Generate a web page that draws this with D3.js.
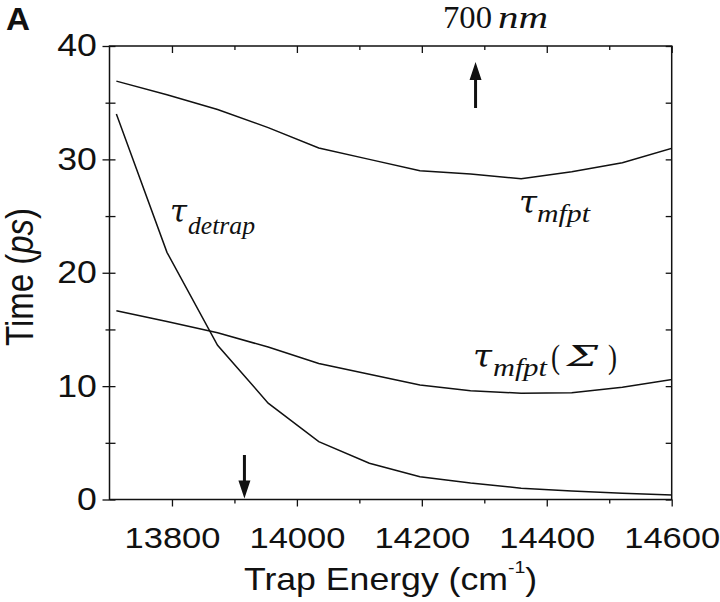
<!DOCTYPE html>
<html>
<head>
<meta charset="utf-8">
<script src="https://cdn.jsdelivr.net/npm/d3@7"></script>
<style>
  body { margin: 0; background: #fff; }
</style>
</head>
<body>
<div id="chart"></div>
<script>
// Trap energy (cm^-1) of each computed point
const energy = [13711, 13792, 13873, 13954, 14035, 14116, 14197, 14278, 14359, 14440, 14521, 14602];
// times in ps
const tauMfpt      = [36.9, 35.7, 34.4, 32.8, 31.0, 30.0, 29.0, 28.7, 28.3, 28.9, 29.7, 31.0];
const tauMfptSigma = [16.65, 15.7, 14.7, 13.45, 12.0, 11.05, 10.1, 9.6, 9.37, 9.42, 9.9, 10.6];
const tauDetrap    = [34.0, 21.8, 13.6, 8.5, 5.1, 3.2, 2.0, 1.45, 1.0, 0.75, 0.55, 0.4];

const xMajor = [13800, 14000, 14200, 14400, 14600];
const xMinor = [13900, 14100, 14300, 14500];
const yMajor = [0, 10, 20, 30, 40];
const yMinor = [5, 15, 25, 35];

// arrow markers on the energy axis
const arrowUpAt = 14286;   // 700 nm
const arrowDownAt = 13916;

const width = 720, height = 602;
const plot = { left: 109.5, right: 671.7, top: 46, bottom: 499.5 };
const ink = "#111";
const sans = "Liberation Sans, Arial, sans-serif";
const serif = "Liberation Serif, Times New Roman, serif";
const greek = "DejaVu Serif, serif";
const SX = 1.15; // the original figure is slightly stretched horizontally

const svg = d3.select("#chart")
    .append("svg")
    .attr("width", width)
    .attr("height", height);

const x = d3.scaleLinear().domain([13700, 14600]).range([plot.left, plot.right]);
const y = d3.scaleLinear().domain([0, 40]).range([plot.bottom, plot.top]);

function styleTicks(g) {
    g.select(".domain").remove();
    g.selectAll("line").attr("stroke", ink).attr("stroke-width", 1.3);
}

// bottom axis: outward ticks + labels
const gx = svg.append("g")
    .attr("transform", `translate(0,${plot.bottom})`)
    .call(d3.axisBottom(x).tickValues(xMajor).tickSize(7).tickPadding(20).tickFormat(d3.format("d")));
styleTicks(gx);
gx.selectAll("text")
    .attr("font-family", sans)
    .attr("font-size", 30)
    .attr("fill", ink)
    .attr("transform", `scale(${SX},1)`);

svg.append("g")
    .attr("transform", `translate(0,${plot.bottom})`)
    .call(d3.axisBottom(x).tickValues(xMinor).tickSize(4).tickFormat(""))
    .call(styleTicks);

// top axis: inward ticks
svg.append("g")
    .attr("transform", `translate(0,${plot.top})`)
    .call(d3.axisTop(x).tickValues(xMajor).tickSize(-7).tickFormat(""))
    .call(styleTicks);
svg.append("g")
    .attr("transform", `translate(0,${plot.top})`)
    .call(d3.axisTop(x).tickValues(xMinor).tickSize(-4).tickFormat(""))
    .call(styleTicks);

// left axis: outward ticks + labels
const gy = svg.append("g")
    .attr("transform", `translate(${plot.left},0)`)
    .call(d3.axisLeft(y).tickValues(yMajor).tickSize(7).tickPadding(4));
styleTicks(gy);
gy.selectAll("text")
    .attr("font-family", sans)
    .attr("font-size", 31)
    .attr("fill", ink)
    .attr("transform", `scale(${SX},1)`);

svg.append("g")
    .attr("transform", `translate(${plot.left},0)`)
    .call(d3.axisLeft(y).tickValues(yMinor).tickSize(4).tickFormat(""))
    .call(styleTicks);

// inward ticks on left and right
svg.append("g")
    .attr("transform", `translate(${plot.left},0)`)
    .call(d3.axisLeft(y).tickValues(yMajor.concat(yMinor)).tickSize(-6).tickFormat(""))
    .call(styleTicks);
svg.append("g")
    .attr("transform", `translate(${plot.right},0)`)
    .call(d3.axisRight(y).tickValues(yMajor.concat(yMinor)).tickSize(-6).tickFormat(""))
    .call(styleTicks);

// frame
svg.append("rect")
    .attr("x", plot.left)
    .attr("y", plot.top)
    .attr("width", plot.right - plot.left)
    .attr("height", plot.bottom - plot.top)
    .attr("fill", "none")
    .attr("stroke", ink)
    .attr("stroke-width", 1.5);

// curves
svg.append("clipPath").attr("id", "plot-clip")
    .append("rect")
    .attr("x", plot.left)
    .attr("y", plot.top)
    .attr("width", plot.right - plot.left)
    .attr("height", plot.bottom - plot.top);

const line = d3.line()
    .x(d => x(d[0]))
    .y(d => y(d[1]));

[tauMfpt, tauMfptSigma, tauDetrap].forEach(series => {
    svg.append("path")
        .datum(energy.map((e, i) => [e, series[i]]))
        .attr("clip-path", "url(#plot-clip)")
        .attr("d", line)
        .attr("fill", "none")
        .attr("stroke", ink)
        .attr("stroke-width", 1.5);
});

// arrows
function arrow(xc, tipY, tailY) {
    const dir = tipY < tailY ? 1 : -1;  // 1 = pointing up
    const headLen = 18, headHalf = 6;
    svg.append("line")
        .attr("x1", xc).attr("x2", xc)
        .attr("y1", tailY).attr("y2", tipY + dir * headLen * 0.8)
        .attr("stroke", ink)
        .attr("stroke-width", 3);
    svg.append("path")
        .attr("d", `M${xc},${tipY} L${xc - headHalf},${tipY + dir * headLen} L${xc + headHalf},${tipY + dir * headLen} Z`)
        .attr("fill", ink);
}
arrow(x(arrowUpAt), 62, 108);
arrow(x(arrowDownAt), plot.bottom - 1, 455);

// serif math labels
function mathText(str, xPos, yPos, size, len, italic, family) {
    const t = svg.append("text")
        .attr("x", xPos)
        .attr("y", yPos)
        .attr("font-family", family || serif)
        .attr("font-size", size)
        .attr("font-style", italic ? "italic" : "normal")
        .attr("font-weight", "normal")
        .attr("fill", ink)
        .text(str);
    if (len) t.attr("textLength", len).attr("lengthAdjust", "spacingAndGlyphs");
    return t;
}

mathText("\u03C4", 170, 222, 31, 17, true, greek);
mathText("detrap", 188, 234, 26, 67, true);

mathText("\u03C4", 519, 213, 31, 18, true, greek);
mathText("mfpt", 537, 222, 26, 53, true);

mathText("\u03C4", 473, 367, 31, 19, true, greek);
mathText("mfpt", 493, 376, 26, 54, true);
mathText("(", 551, 368, 34, 9, false);
mathText("\u03A3", 567, 366, 27, 31, true, greek);
mathText(")", 608, 368, 34, 9, false);

mathText("700", 443, 28, 31, 49, false);
mathText("nm", 498, 28, 31, 50, true);

// panel letter
svg.append("text")
    .attr("x", 6)
    .attr("y", 30)
    .attr("font-family", sans)
    .attr("font-size", 32)
    .attr("font-weight", "bold")
    .attr("fill", ink)
    .attr("textLength", 24)
    .attr("lengthAdjust", "spacingAndGlyphs")
    .text("A");

// axis titles
const xTitle = svg.append("text")
    .attr("transform", `translate(${(plot.left + plot.right) / 2},590) scale(${SX},1)`)
    .attr("text-anchor", "middle")
    .attr("font-family", sans)
    .attr("font-size", 31)
    .attr("fill", ink);
xTitle.append("tspan").text("Trap Energy (cm");
xTitle.append("tspan").attr("font-size", 17).attr("dy", -17).text("-1");
xTitle.append("tspan").attr("dy", 17).text(")");

const yTitle = svg.append("text")
    .attr("transform", `translate(33,277) rotate(-90) scale(1,${SX})`)
    .attr("text-anchor", "middle")
    .attr("font-family", sans)
    .attr("font-size", 33)
    .attr("fill", ink);
yTitle.append("tspan").text("Time (");
yTitle.append("tspan").attr("font-style", "italic").text("ps");
yTitle.append("tspan").text(")");
</script>
</body>
</html>
